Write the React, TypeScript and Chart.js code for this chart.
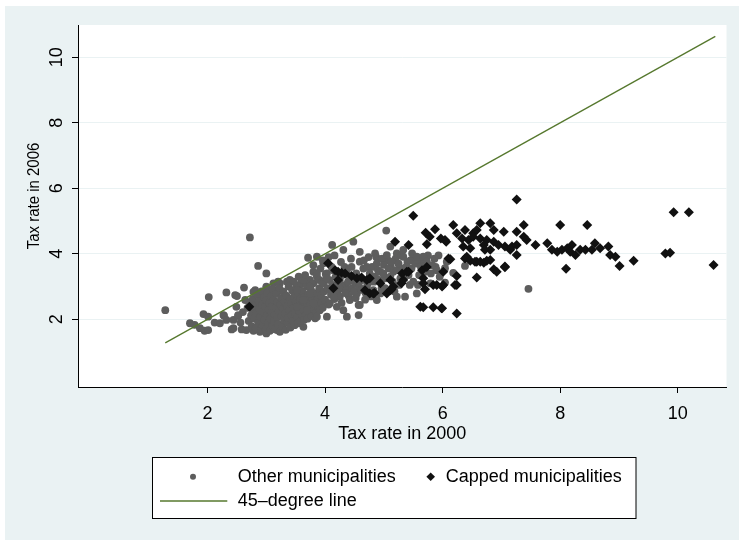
import React, { useEffect, useRef } from 'react';
import { Chart, registerables } from 'chart.js';

Chart.register(...registerables);

const X_TICKS = [2, 4, 6, 8, 10];
const Y_TICKS = [2, 4, 6, 8, 10];
const X_TITLE = 'Tax rate in 2000';
const Y_TITLE = 'Tax rate in 2006';
const LEGEND_LABELS = ['Other municipalities', 'Capped municipalities', '45\u2013degree line'];

// 45-degree line drawn between these values on both axes
const LINE_ENDS = [1.28, 10.64];

const otherMunicipalities: [number, number][] = [
  [1.28, 2.28], [1.7, 1.88], [1.78, 1.83], [1.87, 1.73], [1.93, 2.16], [1.95, 1.65], [2.01, 1.67],
  [2.01, 2.08], [2.02, 2.68], [2.12, 1.9], [2.21, 1.88], [2.27, 2.13], [2.28, 2.11], [2.32, 1.98],
  [2.32, 2.82], [2.41, 1.69], [2.44, 1.98], [2.44, 1.73], [2.47, 2.74], [2.52, 2.1], [2.52, 2.13],
  [2.58, 1.69], [2.62, 2.97], [2.64, 2.59], [2.66, 1.67], [2.72, 4.5], [2.78, 1.65], [2.78, 2.28],
  [2.86, 3.63], [2.89, 1.62], [2.89, 2.49], [3.0, 3.4], [3.0, 3.0], [3.0, 1.57], [3.0, 2.95],
  [3.12, 3.1], [3.18, 1.67], [3.2, 3.15], [3.23, 3.1], [3.35, 3.15], [3.4, 3.2], [3.46, 3.15],
  [3.57, 3.05], [3.63, 1.77], [3.71, 3.0], [2.81, 2.89], [2.95, 2.64], [3.18, 1.73], [3.0, 1.62],
  [2.49, 2.38], [2.5, 2.71], [2.78, 2.84], [2.6, 2.22], [2.56, 1.9],
  [2.68, 2.35], [2.7, 1.95], [2.72, 2.5], [2.74, 2.12], [2.75, 1.78], [2.77, 2.62], [2.79, 2.02],
  [2.8, 2.42], [2.82, 1.72], [2.83, 2.2], [2.85, 2.75], [2.86, 1.9], [2.87, 2.55], [2.88, 2.32],
  [2.9, 2.08], [2.91, 1.68], [2.92, 2.85], [2.93, 2.45], [2.94, 1.82], [2.95, 2.22], [2.96, 2.68],
  [2.97, 1.98], [2.98, 2.38], [2.99, 1.7], [3.0, 2.58], [3.01, 2.12], [3.02, 2.8], [3.03, 1.88],
  [3.04, 2.3], [3.05, 2.5], [3.06, 1.65], [3.07, 2.02], [3.08, 2.7], [3.09, 2.2], [3.1, 1.8],
  [3.1, 2.42], [3.11, 2.92],
  [3.12, 2.6], [3.13, 1.95], [3.14, 2.15], [3.15, 1.7], [3.16, 2.35], [3.17, 2.78], [3.18, 2.05],
  [3.19, 2.52], [3.2, 1.85], [3.21, 2.25], [3.22, 2.95], [3.23, 1.62], [3.24, 2.45], [3.25, 2.65],
  [3.26, 2.1], [3.27, 1.78], [3.28, 2.32], [3.29, 2.85], [3.3, 1.98], [3.31, 2.55], [3.32, 2.18],
  [3.33, 1.68], [3.34, 2.72], [3.35, 2.4], [3.36, 1.9], [3.37, 2.05], [3.38, 3.0], [3.39, 2.28],
  [3.4, 2.62], [3.41, 1.75], [3.42, 2.48], [3.43, 2.12], [3.44, 2.88], [3.45, 1.95], [3.46, 2.35],
  [3.47, 2.7], [3.48, 1.82], [3.49, 2.2], [3.5, 2.55],
  [3.51, 2.98], [3.52, 2.05], [3.53, 2.4], [3.54, 1.88], [3.55, 2.78], [3.56, 2.25], [3.57, 2.6],
  [3.58, 1.95], [3.59, 3.12], [3.6, 2.45], [3.61, 2.12], [3.62, 2.85], [3.63, 2.3], [3.64, 1.98],
  [3.65, 2.68], [3.66, 2.52], [3.67, 2.15], [3.68, 3.05], [3.69, 2.38], [3.7, 2.02], [3.71, 2.75],
  [3.72, 2.58], [3.73, 2.22], [3.74, 3.2], [3.75, 2.45], [3.76, 2.9], [3.77, 2.1], [3.78, 2.65],
  [3.79, 2.32], [3.8, 3.1], [3.82, 2.5], [3.83, 2.03], [3.84, 2.8], [3.85, 2.2], [3.86, 3.3],
  [3.87, 2.6], [3.88, 2.4], [3.9, 2.95],
  [3.71, 3.88], [3.86, 3.91], [3.97, 3.71], [3.8, 3.45], [3.63, 3.2], [3.74, 3.0], [3.86, 3.4],
  [3.74, 2.79], [3.91, 2.89], [3.52, 2.89], [3.63, 2.59], [3.8, 2.49], [3.52, 2.38], [3.69, 2.28],
  [3.86, 2.08], [3.96, 3.8], [4.06, 3.9], [4.16, 3.95], [3.8, 3.65], [3.9, 3.2], [3.66, 3.35],
  [3.55, 3.3],
  [3.91, 2.28], [3.92, 3.55], [3.93, 2.72], [3.94, 2.5], [3.95, 3.15], [3.96, 2.35], [3.97, 3.1],
  [3.98, 2.85], [4.0, 2.6], [4.01, 3.38], [4.03, 2.08], [4.03, 3.4], [4.04, 2.95], [4.06, 2.45],
  [4.07, 3.2], [4.08, 2.49], [4.1, 2.75], [4.11, 3.6], [4.12, 4.27], [4.13, 3.05], [4.14, 3.0],
  [4.14, 3.5], [4.16, 2.62], [4.18, 3.3], [4.2, 2.38], [4.21, 2.85], [4.23, 3.1], [4.25, 2.69],
  [4.25, 3.2], [4.27, 3.75], [4.28, 2.5], [4.3, 2.95], [4.31, 2.28], [4.31, 4.12], [4.33, 3.6],
  [4.35, 3.05], [4.37, 2.08], [4.37, 2.89], [4.37, 3.5], [4.4, 2.72], [4.42, 2.59], [4.42, 3.3],
  [4.44, 3.85], [4.46, 2.95], [4.48, 4.37], [4.5, 3.15], [4.52, 2.65], [4.54, 2.79], [4.54, 3.1],
  [4.57, 2.13], [4.57, 2.44], [4.59, 2.44], [4.59, 3.76], [4.59, 4.06],
  [4.02, 3.25], [4.09, 2.88], [4.15, 2.7], [4.19, 3.45], [4.24, 2.98], [4.29, 3.35], [4.34, 2.8],
  [4.39, 3.15], [4.45, 3.6], [4.49, 2.85], [4.53, 3.4], [4.58, 3.0], [4.63, 3.2], [4.66, 3.8],
  [4.69, 2.8], [4.73, 3.1], [4.8, 3.6], [4.83, 3.15], [4.87, 3.9], [4.92, 3.2], [4.96, 2.95],
  [5.03, 3.25], [5.07, 3.8], [5.12, 3.6], [5.15, 3.15], [5.2, 3.85], [5.26, 3.05], [5.32, 3.55],
  [5.35, 3.3], [5.4, 3.75], [5.44, 3.05], [5.47, 3.55], [5.52, 3.9], [5.58, 3.05], [5.62, 3.75],
  [5.68, 3.55], [5.75, 3.95], [5.8, 3.4], [5.88, 3.6], [5.93, 3.95],
  [4.62, 2.9], [4.65, 3.55], [4.68, 2.6], [4.71, 3.6], [4.71, 3.0], [4.74, 3.9], [4.76, 3.4],
  [4.78, 2.7], [4.82, 2.89], [4.85, 4.01], [4.85, 3.3], [4.88, 3.71], [4.88, 2.59], [4.9, 3.5],
  [4.94, 3.45], [4.94, 2.79], [4.97, 3.85], [4.99, 3.4], [5.0, 3.66], [5.02, 2.95], [5.04, 4.71],
  [5.05, 3.96], [5.08, 3.55], [5.11, 3.3], [5.11, 4.22], [5.13, 3.76], [5.16, 3.45], [5.18, 2.85],
  [5.22, 3.5], [5.22, 4.01], [5.22, 2.69], [5.25, 3.7], [5.28, 3.25], [5.3, 3.95], [5.33, 3.91],
  [5.33, 4.12], [5.36, 2.69], [5.38, 3.6], [5.42, 3.35], [5.45, 3.8], [5.48, 4.01], [5.5, 3.15],
  [5.53, 3.7], [5.56, 3.81], [5.56, 3.91], [5.56, 2.79], [5.6, 3.35], [5.63, 3.6], [5.67, 3.91],
  [5.7, 3.45], [5.73, 3.76], [5.79, 3.1], [5.82, 3.65], [5.86, 3.85], [5.9, 3.5], [5.95, 3.3],
  [6.04, 3.56], [6.07, 3.76], [6.04, 3.12], [6.18, 3.42], [6.38, 3.63], [7.46, 2.93],
];

const cappedMunicipalities: [number, number][] = [
  [2.71, 2.38], [4.05, 3.71], [4.17, 3.5], [4.22, 3.45], [4.28, 3.42], [4.34, 3.4], [4.45, 3.32],
  [4.54, 3.25], [4.62, 3.28], [4.71, 3.2], [4.76, 3.25], [4.22, 3.2], [4.14, 2.95], [4.94, 3.1],
  [4.68, 2.89], [4.76, 2.79], [4.84, 2.8], [5.05, 2.79], [5.11, 2.89], [5.16, 3.0], [5.11, 3.2],
  [5.3, 3.1], [5.33, 3.2], [5.31, 3.4], [5.42, 3.45], [5.65, 3.5], [5.73, 3.6], [5.67, 3.25],
  [5.7, 2.92], [5.67, 3.1], [5.84, 3.05], [5.9, 3.05], [6.01, 3.05], [6.01, 3.45], [5.62, 2.38],
  [5.67, 2.37], [5.84, 2.37], [5.98, 2.34], [6.24, 2.18], [5.5, 5.16], [5.71, 4.64], [5.87, 4.75],
  [5.78, 4.52], [5.97, 4.47], [6.06, 4.37], [5.19, 4.37], [5.42, 4.27], [5.73, 4.29], [6.1, 3.86],
  [6.13, 3.83], [6.41, 3.91], [6.58, 3.76], [6.7, 3.73], [6.81, 3.81], [6.87, 3.53], [6.92, 3.45],
  [7.06, 3.61], [6.58, 3.28], [6.24, 3.32], [6.24, 3.05], [7.26, 3.96], [6.81, 4.12], [7.15, 4.12],
  [7.26, 5.66], [6.18, 4.88], [6.64, 4.93], [6.81, 4.93], [7.38, 4.88], [8.0, 4.88], [8.46, 4.88],
  [9.93, 5.27], [10.19, 5.27], [6.38, 4.73], [6.24, 4.63], [6.04, 4.42], [6.52, 4.63], [6.58, 4.73],
  [6.87, 4.73], [7.04, 4.67], [6.33, 4.47], [6.44, 4.42], [6.52, 4.52], [6.64, 4.47], [6.75, 4.42],
  [6.87, 4.37], [6.95, 4.27], [7.06, 4.22], [7.18, 4.22], [7.26, 4.27], [7.26, 4.67], [7.38, 4.52],
  [7.43, 4.42], [7.58, 4.27], [6.35, 4.22], [6.47, 4.17], [6.7, 4.27], [6.72, 4.12], [7.78, 4.32],
  [7.86, 4.12], [7.95, 4.06], [8.03, 4.12], [8.12, 4.17], [8.2, 4.27], [8.17, 4.06], [8.26, 3.96],
  [8.34, 4.12], [8.43, 4.12], [8.54, 4.12], [8.59, 4.32], [8.68, 4.17], [8.82, 4.22], [8.85, 3.96],
  [8.94, 3.91], [9.01, 3.63], [9.25, 3.79], [9.79, 4.01], [9.87, 4.03], [10.61, 3.66], [8.1, 3.54],
  [6.38, 3.86], [6.47, 3.79], [6.55, 3.76], [6.64, 3.76], [6.75, 3.79], [7.06, 3.59], [6.21, 3.05],
  [5.99, 3.0], [5.99, 2.34], [5.39, 3.45], [5.13, 2.92], [4.82, 2.79],
];

const FONT = '"Liberation Sans", Arial, Helvetica, sans-serif';
const PAGE_BG = '#EAF2F3';
const GRAY = '#5d5d5d';
const BLACK = '#111111';
const GREEN = '#56782e';

const decorPlugin = {
  id: 'stataDecor',
  beforeDraw(chart: any) {
    const { ctx, chartArea, width, height } = chart;
    ctx.save();
    ctx.fillStyle = '#ffffff';
    ctx.fillRect(0, 0, width, height);
    ctx.fillStyle = PAGE_BG;
    ctx.fillRect(5, 6, width - 5, height - 6);
    ctx.fillStyle = '#ffffff';
    ctx.fillRect(chartArea.left, chartArea.top, chartArea.right - chartArea.left, chartArea.bottom - chartArea.top);
    ctx.restore();
  },
  afterDraw(chart: any) {
    const { ctx, chartArea } = chart;
    ctx.save();
    ctx.fillStyle = '#000';
    ctx.textBaseline = 'middle';
    // x title
    ctx.font = `18px ${FONT}`;
    ctx.textAlign = 'center';
    ctx.fillText(X_TITLE, (chartArea.left + chartArea.right) / 2, 434.5);
    // y title
    ctx.save();
    ctx.translate(34, 196);
    ctx.rotate(-Math.PI / 2);
    ctx.scale(1, 1.15);
    ctx.font = `15px ${FONT}`;
    ctx.fillText(Y_TITLE, 0, 0);
    ctx.restore();

    // legend box
    ctx.fillStyle = '#ffffff';
    ctx.fillRect(152.5, 457.5, 483.5, 61);
    ctx.strokeStyle = '#000';
    ctx.lineWidth = 1;
    ctx.strokeRect(152.5, 457.5, 483.5, 61);

    // gray dot
    ctx.fillStyle = GRAY;
    ctx.beginPath();
    ctx.arc(193, 476.7, 3, 0, Math.PI * 2);
    ctx.fill();
    // diamond
    ctx.fillStyle = BLACK;
    ctx.beginPath();
    const dx = 430.7, dy = 476.7, r = 4.3;
    ctx.moveTo(dx, dy - r);
    ctx.lineTo(dx + r, dy);
    ctx.lineTo(dx, dy + r);
    ctx.lineTo(dx - r, dy);
    ctx.closePath();
    ctx.fill();
    // line
    ctx.strokeStyle = GREEN;
    ctx.lineWidth = 1.3;
    ctx.beginPath();
    ctx.moveTo(160, 501);
    ctx.lineTo(227.3, 501);
    ctx.stroke();

    ctx.fillStyle = '#000';
    ctx.font = `18px ${FONT}`;
    ctx.textAlign = 'left';
    ctx.fillText(LEGEND_LABELS[0], 237.7, 477.5);
    ctx.fillText(LEGEND_LABELS[1], 445.7, 477.5);
    ctx.fillText(LEGEND_LABELS[2], 237.7, 501.5);
    ctx.restore();
  },
};

export default function App() {
  const ref = useRef<HTMLCanvasElement | null>(null);
  useEffect(() => {
    document.body.style.margin = '0';
    const canvas = ref.current;
    if (!canvas) return;
    const chart = new Chart(canvas, {
      type: 'scatter',
      data: {
        datasets: [
          {
            label: LEGEND_LABELS[2],
            type: 'line',
            data: LINE_ENDS.map((v) => ({ x: v, y: v })),
            borderColor: GREEN,
            borderWidth: 1.3,
            pointRadius: 0,
            fill: false,
            order: 1,
          } as any,
          {
            label: LEGEND_LABELS[1],
            data: cappedMunicipalities.map(([x, y]) => ({ x, y })),
            pointStyle: 'rectRot',
            pointRadius: 5,
            backgroundColor: BLACK,
            borderColor: BLACK,
            borderWidth: 0,
            order: 2,
          },
          {
            label: LEGEND_LABELS[0],
            data: otherMunicipalities.map(([x, y]) => ({ x, y })),
            pointStyle: 'circle',
            pointRadius: 3.9,
            backgroundColor: GRAY,
            borderColor: GRAY,
            borderWidth: 0,
            order: 3,
          },
        ],
      },
      options: {
        animation: false,
        responsive: false,
        devicePixelRatio: 1,
        layout: { padding: { left: 0, right: 12.5, top: 25, bottom: 0 } },
        plugins: {
          legend: { display: false },
          tooltip: { enabled: false },
          title: { display: false },
        },
        scales: {
          x: {
            type: 'linear',
            min: -0.205,
            max: 10.83,
            afterBuildTicks: (s: any) => {
              s.ticks = X_TICKS.map((v) => ({ value: v }));
            },
            afterFit: (s: any) => {
              s.height = 153;
            },
            grid: { drawOnChartArea: false, tickLength: 6, tickColor: '#000', tickWidth: 1 },
            border: { color: '#000', width: 1 },
            ticks: {
              color: '#000',
              font: { family: FONT, size: 18 },
              padding: 10,
              maxRotation: 0,
              autoSkip: false,
            },
          },
          y: {
            type: 'linear',
            min: -0.067,
            max: 10.986,
            afterBuildTicks: (s: any) => {
              s.ticks = Y_TICKS.map((v) => ({ value: v }));
            },
            afterFit: (s: any) => {
              s.width = 78;
            },
            grid: { color: PAGE_BG, lineWidth: 1, tickLength: 6, tickColor: '#000', tickWidth: 1 },
            border: { color: '#000', width: 1 },
            ticks: {
              color: '#000',
              font: { family: FONT, size: 18 },
              padding: 5,
              minRotation: 90,
              maxRotation: 90,
              crossAlign: 'center',
              autoSkip: false,
            },
          },
        },
      },
      plugins: [decorPlugin],
    });
    return () => chart.destroy();
  }, []);
  return <canvas ref={ref} width={739} height={540} style={{ display: 'block' }} />;
}
